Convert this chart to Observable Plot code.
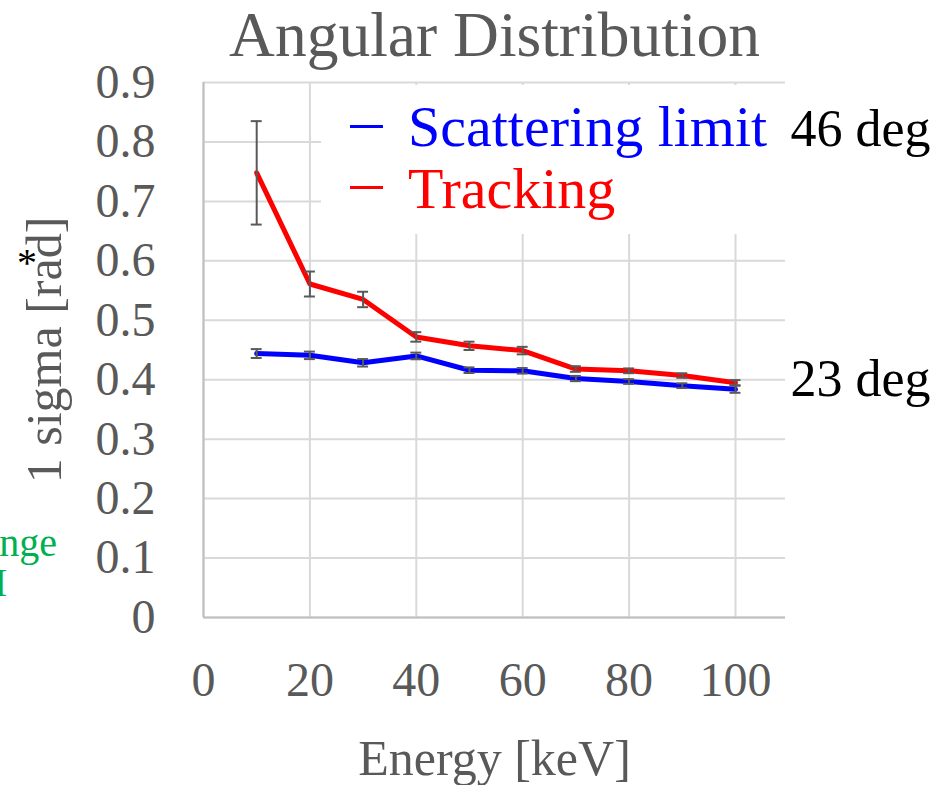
<!DOCTYPE html>
<html>
<head>
<meta charset="utf-8">
<script src="https://cdn.jsdelivr.net/npm/d3@7"></script>
<script src="https://cdn.jsdelivr.net/npm/@observablehq/plot@0.6"></script>
<style>
  body { margin: 0; background: #fff; }
  #wrap { position: relative; width: 946px; height: 785px; overflow: hidden; font-family: "Liberation Serif", serif; }
  .ov { position: absolute; white-space: nowrap; line-height: 1; }
</style>
</head>
<body>
<div id="wrap"></div>
<script>
// ---- data ----
const energies = [10, 20, 30, 40, 50, 60, 70, 80, 90, 100];
const trackingSigma = [0.748, 0.561, 0.535, 0.472, 0.457, 0.449, 0.418, 0.415, 0.407, 0.395];
const trackingErr   = [0.087, 0.021, 0.013, 0.008, 0.007, 0.0063, 0.0047, 0.004, 0.0038, 0.0044];
const scatterSigma  = [0.444, 0.441, 0.4285, 0.440, 0.416, 0.415, 0.402, 0.397, 0.390, 0.384];
const scatterErr    = [0.0075, 0.0063, 0.0063, 0.0056, 0.0047, 0.0047, 0.0044, 0.004, 0.004, 0.006];
const seriesNames  = ["Scattering limit", "Tracking"];
const seriesColors = ["#0000ff", "#ff0000"];
const xTicks = [0, 20, 40, 60, 80, 100];
const yTicks = [0, 0.1, 0.2, 0.3, 0.4, 0.5, 0.6, 0.7, 0.8, 0.9];
const yTickLabels = ["0", "0.1", "0.2", "0.3", "0.4", "0.5", "0.6", "0.7", "0.8", "0.9"];
const degLabels = ["46 deg", "23 deg"];
const degValues = [0.8, 0.4];
const titleText = "Angular Distribution";
const xLabel = "Energy [keV]";
const yLabel = "1 sigma [rad]";
const sideNote = ["Range", "FWHM"];

// ---- build tables ----
const scatter = energies.map((e, i) => ({energy: e, sigma: scatterSigma[i], err: scatterErr[i]}));
const tracking = energies.map((e, i) => ({energy: e, sigma: trackingSigma[i], err: trackingErr[i]}));
const capHalf = 1.03;
const errColor = "#595959";
const textColor = "#595959";

function errorBars(data) {
  return [
    Plot.ruleX(data, {x: "energy", y1: d => d.sigma - d.err, y2: d => d.sigma + d.err, stroke: errColor, strokeWidth: 2}),
    Plot.ruleY(data, {y: d => d.sigma + d.err, x1: d => d.energy - capHalf, x2: d => d.energy + capHalf, stroke: errColor, strokeWidth: 2}),
    Plot.ruleY(data, {y: d => d.sigma - d.err, x1: d => d.energy - capHalf, x2: d => d.energy + capHalf, stroke: errColor, strokeWidth: 2})
  ];
}

const plot = Plot.plot({
  width: 946,
  height: 785,
  marginLeft: 203,
  marginRight: 161,
  marginTop: 82,
  marginBottom: 168,
  style: {fontFamily: "'Liberation Serif', serif", background: "white", color: textColor, overflow: "visible"},
  x: {domain: [0, 109.4]},
  y: {domain: [0, 0.9]},
  marks: [
    Plot.gridX(xTicks, {stroke: "#d9d9d9", strokeOpacity: 1, strokeWidth: 2}),
    Plot.gridY(yTicks, {stroke: "#d9d9d9", strokeOpacity: 1, strokeWidth: 2}),
    Plot.ruleX([0], {stroke: "#bfbfbf", strokeWidth: 2}),
    Plot.ruleY([0], {stroke: "#bfbfbf", strokeWidth: 2}),
    Plot.axisX(xTicks, {tickSize: 0, tickPadding: 44, fontSize: 48, label: null}),
    Plot.axisY(yTicks, {tickSize: 0, tickPadding: 48, fontSize: 48, label: null,
      tickFormat: d => yTickLabels[yTicks.indexOf(d)]}),
    Plot.line(scatter, {x: "energy", y: "sigma", stroke: seriesColors[0], strokeWidth: 5, strokeLinejoin: "round"}),
    ...errorBars(scatter),
    Plot.line(tracking, {x: "energy", y: "sigma", stroke: seriesColors[1], strokeWidth: 5, strokeLinejoin: "round"}),
    ...errorBars(tracking),
    Plot.text([titleText], {text: d => d, frameAnchor: "top", lineAnchor: "middle", dy: -47, fontSize: 63.5, fill: textColor}),
    Plot.text([xLabel], {text: d => d, frameAnchor: "bottom", lineAnchor: "middle", dy: 141, fontSize: 50, fill: textColor}),
    Plot.text([yLabel], {text: d => d, frameAnchor: "left", textAnchor: "middle", lineAnchor: "middle", dx: -159, rotate: -90, fontSize: 50, fill: textColor}),
    Plot.text([degLabels[0]], {text: d => d, y: () => degValues[0], frameAnchor: "right", dx: 5, dy: -13, textAnchor: "start", fontSize: 52, fill: "#000"}),
    Plot.text([degLabels[1]], {text: d => d, y: () => degValues[1], frameAnchor: "right", dx: 5, dy: 0, textAnchor: "start", fontSize: 52, fill: "#000"})
  ]
});

const wrap = document.getElementById("wrap");
wrap.appendChild(plot);

// legend box (covers grid like the source)
const box = document.createElement("div");
box.className = "ov";
box.style.cssText = "left:321px;top:85px;width:470px;height:149px;background:#fff;";
wrap.appendChild(box);
const rows = [{top: 98, swatchY: 126}, {top: 160, swatchY: 187}];
seriesNames.forEach((name, i) => {
  const sw = document.createElement("div");
  sw.className = "ov";
  sw.style.cssText = `left:350px;top:${rows[i].swatchY - 1.5}px;width:33px;height:3px;background:${seriesColors[i]};`;
  wrap.appendChild(sw);
  const t = document.createElement("div");
  t.className = "ov";
  t.style.cssText = `left:408px;top:${rows[i].top}px;font-size:58px;color:${seriesColors[i]};`;
  t.textContent = name;
  wrap.appendChild(t);
});

// asterisk above "rad"
const ast = document.createElement("div");
ast.className = "ov";
ast.style.cssText = "left:17px;top:243px;font-size:40px;color:#000;";
ast.textContent = "*";
wrap.appendChild(ast);

// clipped green side note (cut by the left edge, as in the source)
[{text: sideNote[0], right: 889, top: 523}, {text: sideNote[1], right: 939, top: 563}].forEach(n => {
  const el = document.createElement("div");
  el.className = "ov";
  el.style.cssText = `right:${n.right}px;top:${n.top}px;font-size:40px;color:#00b050;`;
  el.textContent = n.text;
  wrap.appendChild(el);
});
</script>
</body>
</html>
